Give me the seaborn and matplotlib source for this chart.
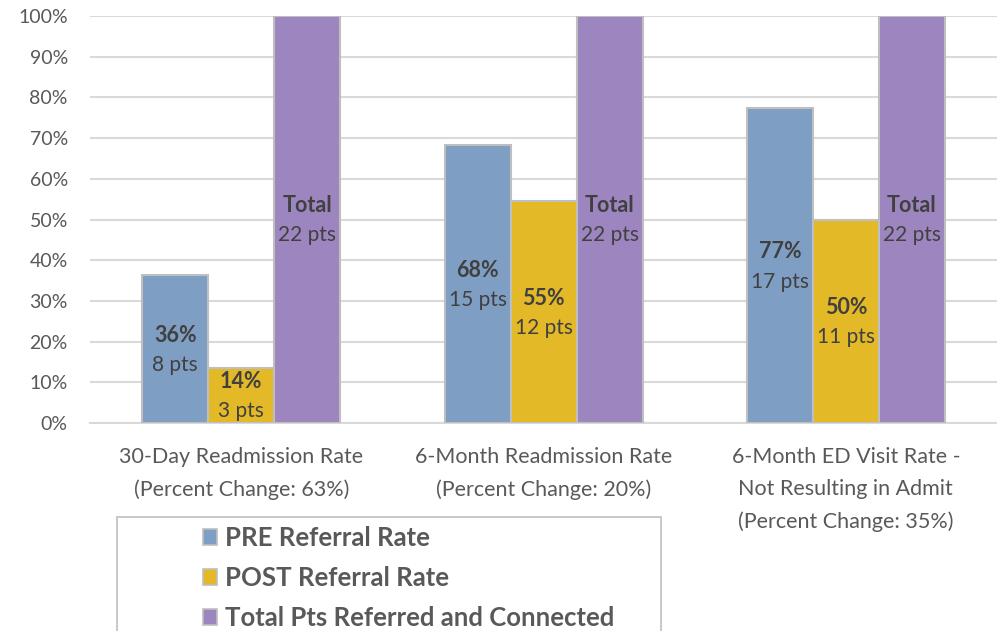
import pandas as pd
import numpy as np
import matplotlib.pyplot as plt
import seaborn as sns
from matplotlib.patches import Rectangle, Patch
from matplotlib.ticker import PercentFormatter

# ---- data ----
categories = ["30-Day Readmission Rate\n(Percent Change: 63%)",
              "6-Month Readmission Rate\n(Percent Change: 20%)",
              "6-Month ED Visit Rate -\nNot Resulting in Admit\n(Percent Change: 35%)"]
series = ["PRE Referral Rate", "POST Referral Rate", "Total Pts Referred and Connected"]
pre_rate = [36.4, 68.2, 77.3]
post_rate = [13.6, 54.5, 50.0]
total_rate = [100, 100, 100]
pre_pts = [8, 15, 17]
post_pts = [3, 12, 11]
total_pts = [22, 22, 22]
colors = ["#7f9ec3", "#e4b927", "#9d85bf"]

sns.set_style("white")
plt.rcParams['font.family'] = ['Lato', 'DejaVu Sans']

rates = [pre_rate, post_rate, total_rate]
pts = [pre_pts, post_pts, total_pts]
df = pd.DataFrame({
    'Category': categories * 3,
    'Series': np.repeat(series, len(categories)),
    'Rate': np.concatenate(rates),
})

fig = plt.figure(figsize=(9.97, 6.31), dpi=100)
ax = fig.add_axes([0.0903, 0.3296, 0.9097, 0.645])

sns.barplot(data=df, x='Category', y='Rate', hue='Series', palette=colors,
            width=0.655, gap=0, edgecolor='#bfbfbf', linewidth=1.5,
            saturation=1, legend=False, ax=ax, zorder=3)

ax.set_ylim(0, 100)
ax.set_xlim(-0.5, 2.5)
ax.set_yticks(np.arange(0, 101, 10))
ax.yaxis.set_major_formatter(PercentFormatter(decimals=0))
ax.grid(axis='y', color='#d9d9d9', linewidth=1.5, zorder=0)
ax.set_axisbelow(True)
for s in ['top', 'right', 'left']:
    ax.spines[s].set_visible(False)
ax.spines['bottom'].set_color('#d9d9d9')
ax.spines['bottom'].set_linewidth(1.5)
ax.set_xlabel('')
ax.set_ylabel('')
ax.tick_params(axis='y', length=0, labelsize=14, labelcolor='#595959', pad=16)
ax.tick_params(axis='x', length=0, labelsize=15.5, labelcolor='#595959', pad=17)
for lab in ax.get_xticklabels():
    lab.set_linespacing(1.75)
    lab.set_verticalalignment('top')

# bar labels (Excel-style half-up rounding)
for i, cont in enumerate(ax.containers):
    for j, bar in enumerate(cont):
        x = bar.get_x() + bar.get_width() / 2
        y = bar.get_height() / 2
        top = "Total" if i == 2 else f"{int(rates[i][j] + 0.5)}%"
        ax.annotate(top, (x, y), xytext=(0, 10), textcoords='offset points',
                    ha='center', va='center', fontsize=15.5, fontweight='bold',
                    color='#404040', zorder=5)
        ax.annotate(f"{pts[i][j]} pts", (x, y), xytext=(0, -11.5), textcoords='offset points',
                    ha='center', va='center', fontsize=15, color='#404040', zorder=5)

# legend box (cut off at the bottom like the original)
fig.patches.append(Rectangle((117 / 997, -0.05), (661 - 117) / 997, (1 - 517 / 631) + 0.05,
                             transform=fig.transFigure, facecolor='white',
                             edgecolor='#bfbfbf', linewidth=1.2, zorder=0))
handles = [Patch(facecolor=c, edgecolor='#bfbfbf', linewidth=1.2) for c in colors]
fig.legend(handles=handles, labels=series, loc='upper left',
           bbox_to_anchor=(203 / 997, 1 - 526 / 631), frameon=False,
           prop={'size': 18.5, 'weight': 'bold'}, labelcolor='#595959',
           handlelength=0.55, handleheight=0.55, handletextpad=0.3,
           labelspacing=0.62, borderpad=0, borderaxespad=0)

fig.savefig('out.png', dpi=100)
